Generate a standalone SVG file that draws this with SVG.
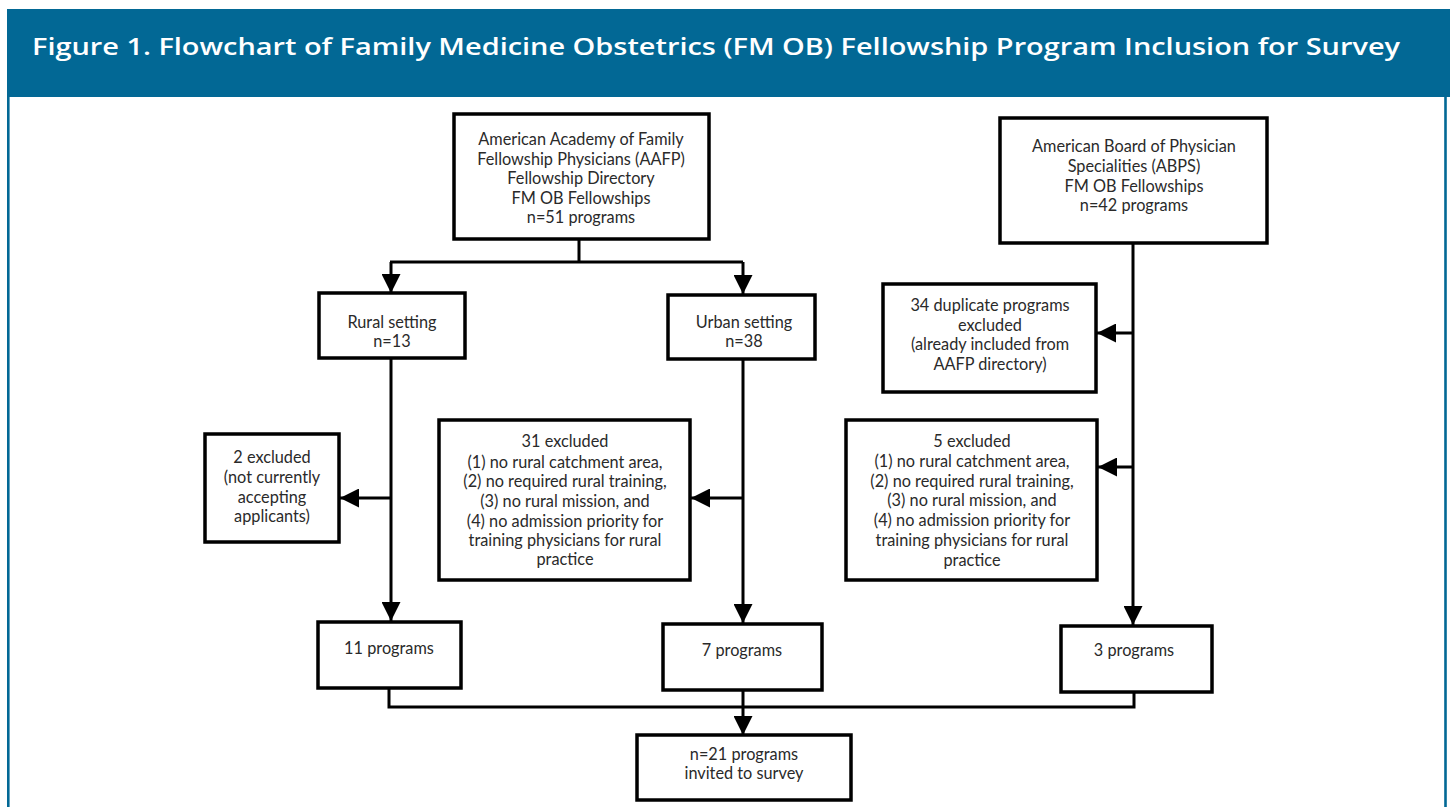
<svg xmlns="http://www.w3.org/2000/svg" width="1450" height="807" viewBox="0 0 1450 807">
<defs>
<style>
.box{fill:#fff;stroke:#000;stroke-width:3.5}
.ln{fill:none;stroke:#000;stroke-width:3}
.t{font-family:Lato,"Noto Sans",sans-serif;font-size:16.3px;fill:#2a2a2a;text-anchor:middle}
.title{font-family:"Open Sans","Noto Sans",sans-serif;font-size:24px;font-weight:600;fill:#fff}
</style>
<marker id="ah" markerWidth="19" markerHeight="19" viewBox="0 0 19 19" refX="19" refY="9.5" orient="auto" markerUnits="userSpaceOnUse">
<path d="M0,0 L19,9.5 L0,19 Z" fill="#000"/>
</marker>
</defs>
<rect x="0" y="0" width="1450" height="807" fill="#fff"/>
<rect x="7" y="9" width="1443" height="88" fill="#026895"/>
<path d="M8.3,97 V807 M1445.5,97 V807" stroke="#026895" stroke-width="2.6" fill="none"/>
<text class="title" x="32" y="55" textLength="1368" lengthAdjust="spacingAndGlyphs">Figure 1. Flowchart of Family Medicine Obstetrics (FM OB) Fellowship Program Inclusion for Survey</text>

<g id="connectors">
<path class="ln" d="M579,239 V262 M390,262 H743"/>
<path class="ln" d="M391,262 V293" marker-end="url(#ah)"/>
<path class="ln" d="M743,262 V294" marker-end="url(#ah)"/>
<path class="ln" d="M391,359 V621" marker-end="url(#ah)"/>
<path class="ln" d="M391,498 H340" marker-end="url(#ah)"/>
<path class="ln" d="M743,360 V623" marker-end="url(#ah)"/>
<path class="ln" d="M743,498 H691" marker-end="url(#ah)"/>
<path class="ln" d="M1133,243 V625" marker-end="url(#ah)"/>
<path class="ln" d="M1133,333 H1097" marker-end="url(#ah)"/>
<path class="ln" d="M1133,467 H1098" marker-end="url(#ah)"/>
<path class="ln" d="M389,688 V707 H1134 V692"/>
<path class="ln" d="M743,690 V735" marker-end="url(#ah)"/>
</g>

<g id="aafp">
<rect class="box" x="454" y="114" width="255" height="125"/>
<text class="t" x="581" y="145">American Academy of Family</text>
<text class="t" x="581" y="164.5">Fellowship Physicians (AAFP)</text>
<text class="t" x="581" y="184">Fellowship Directory</text>
<text class="t" x="581" y="203.5">FM OB Fellowships</text>
<text class="t" x="581" y="223">n=51 programs</text>
</g>
<g id="abps">
<rect class="box" x="1000" y="118" width="267" height="125"/>
<text class="t" x="1134" y="152">American Board of Physician</text>
<text class="t" x="1134" y="172">Specialities (ABPS)</text>
<text class="t" x="1134" y="191.5">FM OB Fellowships</text>
<text class="t" x="1134" y="211">n=42 programs</text>
</g>
<g id="rural">
<rect class="box" x="319" y="293" width="146" height="65"/>
<text class="t" x="392" y="328">Rural setting</text>
<text class="t" x="392" y="347">n=13</text>
</g>
<g id="urban">
<rect class="box" x="668" y="295" width="147" height="64"/>
<text class="t" x="744" y="328">Urban setting</text>
<text class="t" x="744" y="347">n=38</text>
</g>
<g id="dup">
<rect class="box" x="883" y="284" width="213" height="108"/>
<text class="t" x="990" y="311">34 duplicate programs</text>
<text class="t" x="990" y="330.5">excluded</text>
<text class="t" x="990" y="350">(already included from</text>
<text class="t" x="990" y="370">AAFP directory)</text>
</g>
<g id="excl2">
<rect class="box" x="205" y="434" width="134" height="108"/>
<text class="t" x="272" y="463">2 excluded</text>
<text class="t" x="272" y="483">(not currently</text>
<text class="t" x="272" y="503">accepting</text>
<text class="t" x="272" y="522">applicants)</text>
</g>
<g id="excl31">
<rect class="box" x="439" y="420" width="251" height="160"/>
<text class="t" x="565" y="447">31 excluded</text>
<text class="t" x="565" y="468">(1) no rural catchment area,</text>
<text class="t" x="565" y="487">(2) no required rural training,</text>
<text class="t" x="565" y="507">(3) no rural mission, and</text>
<text class="t" x="565" y="527">(4) no admission priority for</text>
<text class="t" x="565" y="546">training physicians for rural</text>
<text class="t" x="565" y="565">practice</text>
</g>
<g id="excl5">
<rect class="box" x="846" y="420" width="251" height="160"/>
<text class="t" x="972" y="447">5 excluded</text>
<text class="t" x="972" y="467">(1) no rural catchment area,</text>
<text class="t" x="972" y="487">(2) no required rural training,</text>
<text class="t" x="972" y="506">(3) no rural mission, and</text>
<text class="t" x="972" y="526">(4) no admission priority for</text>
<text class="t" x="972" y="546">training physicians for rural</text>
<text class="t" x="972" y="566">practice</text>
</g>
<g id="p11">
<rect class="box" x="318" y="622" width="143" height="66"/>
<text class="t" x="389" y="654">11 programs</text>
</g>
<g id="p7">
<rect class="box" x="663" y="624" width="159" height="66"/>
<text class="t" x="742" y="656">7 programs</text>
</g>
<g id="p3">
<rect class="box" x="1061" y="626" width="151" height="66"/>
<text class="t" x="1134" y="656">3 programs</text>
</g>
<g id="final">
<rect class="box" x="637" y="735" width="214" height="65"/>
<text class="t" x="744" y="760">n=21 programs</text>
<text class="t" x="744" y="779">invited to survey</text>
</g>
</svg>
